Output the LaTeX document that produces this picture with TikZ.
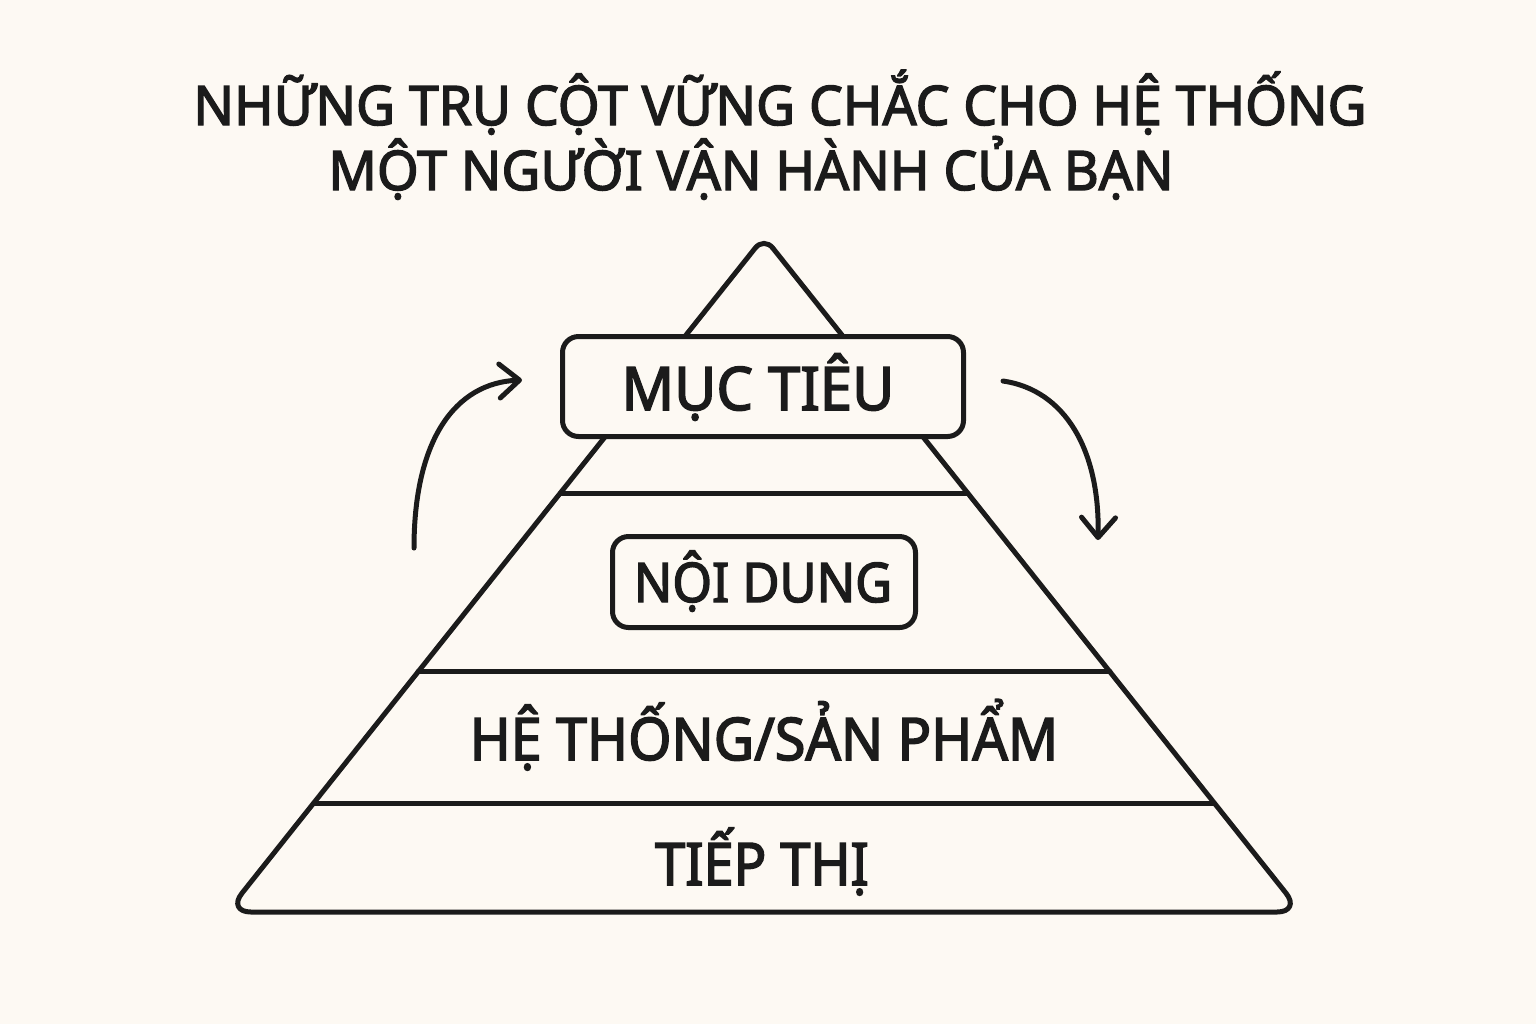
\documentclass[tikz,border=0pt]{standalone}
\usepackage{fontspec}
\setmainfont{Noto Sans}[FakeBold=2.6]
\usetikzlibrary{arrows.meta,calc}
\definecolor{bgc}{HTML}{FDF9F3}
\definecolor{ink}{HTML}{1B1B1B}
\newcommand{\lblfont}[2]{\fontsize{#1}{#1}\selectfont\addfontfeature{FakeStretch=#2}}
\begin{document}
\begin{tikzpicture}[x=0.5pt,y=-0.5pt,
  shapeline/.style={draw=ink,line width=2.5pt,line join=round,line cap=round},
  labelbox/.style={draw=ink,line width=2.5pt,fill=bgc,rounded corners=8pt,inner sep=0pt},
  lbl/.style={text=ink,inner sep=0pt,anchor=base},
  cyclearrow/.style={draw=ink,line width=2.5pt,line cap=round,
     -{Straight Barb[length=10pt,width=17pt,line cap=round,line join=round]}}]
\fill[bgc] (0,0) rectangle (1536,1024);
\useasboundingbox (0,0) rectangle (1536,1024);
% title
\node[lbl,anchor=base west,font=\lblfont{27.3pt}{0.98}] (t1) at (193,125) {NHỮNG TRỤ CỘT VỮNG CHẮC CHO HỆ THỐNG};
\node[lbl,anchor=base west,font=\lblfont{27.3pt}{0.98}] (t2) at (328,190) {MỘT NGƯỜI VẬN HÀNH CỦA BẠN};
% pyramid
\coordinate (apex) at (764,237);
\coordinate (bl) at (227,912);
\coordinate (br) at (1301,912);
\coordinate (bm) at (764,912);
\draw[shapeline] (bm) [rounded corners=12pt] -- (br) [rounded corners=7pt] -- (apex) [rounded corners=12pt] -- (bl) -- cycle;
\draw[shapeline] ($(apex)!0.3793!(bl)$) -- ($(apex)!0.3793!(br)$);
\draw[shapeline] ($(apex)!0.6444!(bl)$) -- ($(apex)!0.6444!(br)$);
\draw[shapeline] ($(apex)!0.8385!(bl)$) -- ($(apex)!0.8385!(br)$);
% boxes
\node[labelbox,minimum width=200.5pt,minimum height=50pt] (goalbox) at (763,386.5) {};
\node[labelbox,minimum width=151.5pt,minimum height=45.5pt] (contentbox) at (764,582) {};
% labels
\node[lbl,font=\lblfont{30pt}{0.965}] (goal) at (758,410) {MỤC TIÊU};
\node[lbl,font=\lblfont{27.3pt}{0.93}] (content) at (763,602) {NỘI DUNG};
\node[lbl,font=\lblfont{29.4pt}{0.945}] (system) at (764,760) {HỆ THỐNG/SẢN PHẨM};
\node[lbl,font=\lblfont{29.4pt}{0.92}] (marketing) at (762,885) {TIẾP THỊ};
% cycle arrows
\coordinate (la0) at (414,548);
\coordinate (la1) at (522,380);
\coordinate (ra0) at (1003,381);
\coordinate (ra1) at (1098,540);
\draw[cyclearrow] (la0) .. controls (414,440) and (455,383) .. (la1);
\draw[cyclearrow] (ra0) .. controls (1065,390) and (1100,450) .. (ra1);
\end{tikzpicture}
\end{document}
